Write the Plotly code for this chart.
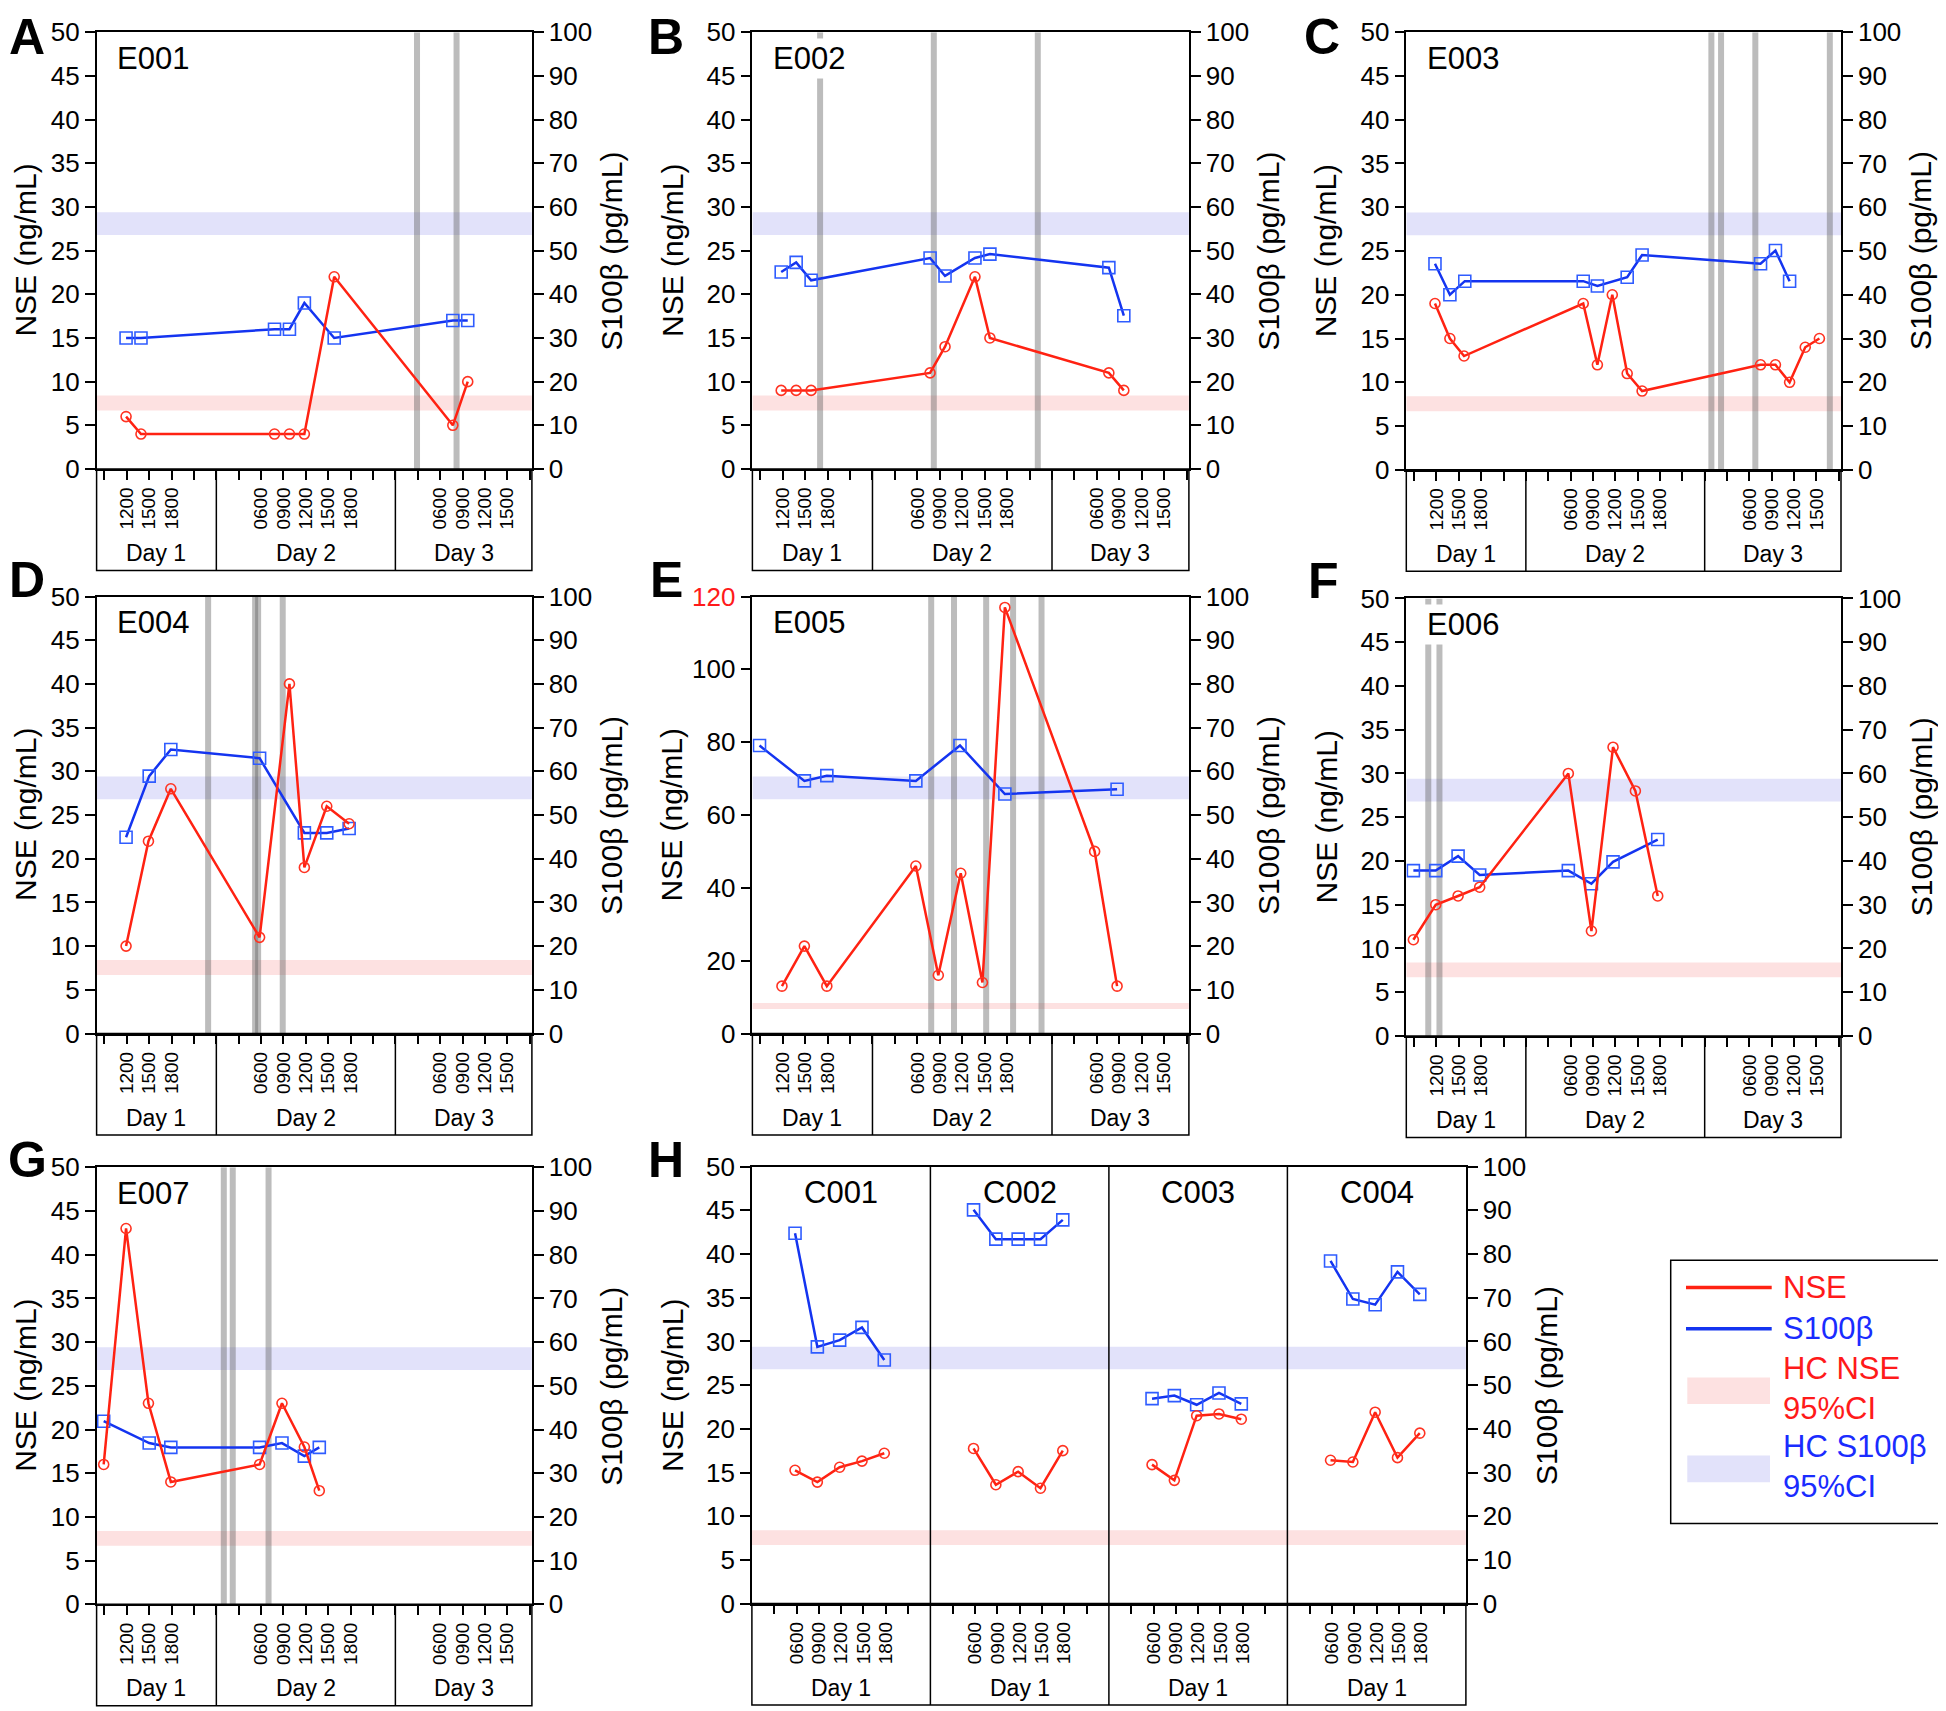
import plotly.graph_objects as go

# page size; the html body keeps an 8 px margin, so the figure is made smaller
# and every pixel position below is given in page pixels and shifted by OFF
PAGE_W, PAGE_H = 1946, 1711
OFF = 8
W, H = PAGE_W - OFF, PAGE_H - OFF
FONT = "Liberation Sans"

# ---- data: times are hours counted from 00:00 of Day 1 ----
E001_time = [11.9, 13.9, 31.8, 33.8, 35.8, 39.8, 55.7, 57.7]
E001_nse = [6, 4, 4, 4, 4, 22, 5, 10]
E001_s100 = [30, 30, 32, 32, 38, 30, 34, 34]
E001_bars = [50.9, 56.2]

E002_time = [11.8, 13.8, 15.8, 31.7, 33.7, 37.7, 39.7, 55.6, 57.6]
E002_nse = [9, 9, 9, 11, 14, 22, 15, 11, 9]
E002_s100 = [45.1, 47.3, 43.2, 48.3, 44.2, 48.3, 49.2, 46.1, 35.1]
E002_bars = [17.0, 32.2, 46.1]

E003_nse_time = [11.8, 13.8, 15.7, 31.7, 33.6, 35.6, 37.6, 39.6, 55.5, 57.5, 59.4, 61.5, 63.4]
E003_nse = [19, 15, 13, 19, 12, 20, 11, 9, 12, 12, 10, 14, 15]
E003_s100_time = [11.8, 13.8, 15.8, 31.7, 33.6, 37.6, 39.6, 55.5, 57.5, 59.4]
E003_s100 = [47.1, 40.0, 43.1, 43.1, 42.0, 44.0, 49.1, 47.1, 50.1, 43.1]
E003_bars = [48.9, 50.2, 54.8, 64.8]

E004_nse_time = [11.9, 14.9, 17.9, 29.8, 33.8, 35.8, 38.8, 41.8]
E004_nse = [10, 22, 28, 11, 40, 19, 26, 24]
E004_s100_time = [11.9, 15.0, 17.9, 29.8, 35.8, 38.8, 41.8]
E004_s100 = [44.9, 58.9, 65.0, 63.0, 45.9, 45.9, 46.9]
E004_bars = [22.9, 29.2, 29.6, 32.9]

E005_nse_time = [11.9, 14.9, 17.9, 29.8, 32.8, 35.8, 38.7, 41.7, 53.7, 56.7]
E005_nse = [13, 24, 13, 46, 16, 44, 14, 117, 50, 13]
E005_s100_time = [8.9, 14.9, 17.9, 29.8, 35.7, 41.7, 56.7]
E005_s100 = [65.9, 57.8, 59.0, 57.8, 65.9, 54.8, 55.9]
E005_bars = [31.85, 34.9, 39.2, 42.8, 46.6]

E006_nse_time = [8.9, 11.9, 14.9, 17.8, 29.7, 32.8, 35.7, 38.7, 41.7]
E006_nse = [11, 15, 16, 17, 30, 12, 33, 28, 16]
E006_s100_time = [8.9, 11.9, 14.9, 17.8, 29.7, 32.8, 35.7, 41.7]
E006_s100 = [37.8, 37.8, 41.1, 36.8, 37.8, 34.8, 39.8, 44.9]
E006_bars = [10.9, 12.4]

E007_nse_time = [8.9, 11.9, 14.9, 17.9, 29.8, 32.8, 35.8, 37.8]
E007_nse = [16, 43, 23, 14, 16, 23, 18, 13]
E007_s100_time = [8.9, 15.0, 17.9, 29.8, 32.8, 35.8, 37.8]
E007_s100 = [41.9, 36.9, 35.9, 35.9, 36.9, 33.9, 35.9]
E007_bars = [25.0, 26.2, 31.0]

# controls, one day each (hour of day)
ctrl_names = ["C001", "C002", "C003", "C004"]
ctrl_time = [5.8, 8.8, 11.8, 14.8, 17.8]
ctrl_nse = [
    [15.25, 13.9, 15.6, 16.3, 17.2],
    [17.75, 13.6, 15.1, 13.2, 17.5],
    [15.9, 14.1, 21.5, 21.7, 21.1],
    [16.4, 16.2, 21.9, 16.7, 19.5],
]
ctrl_s100 = [
    [84.75, 58.75, 60.3, 63.2, 55.75],
    [90.1, 83.4, 83.4, 83.4, 87.8],
    [46.9, 47.6, 45.5, 48.2, 45.7],
    [78.4, 69.7, 68.4, 75.9, 70.75],
]

# healthy-control 95% CI bands
NSE_CI = [6.7, 8.4]      # ng/mL
S100_CI = [53.6, 58.8]   # pg/mL

# x axis ticks (patients: 3 days, controls: 1 day each)
X_RANGE = [7.95, 66.3]
X_TICKS = list(range(9, 67, 3))
X_LABELED = [12, 15, 18, 30, 33, 36, 39, 42, 54, 57, 60, 63]
DAY_EDGES = [24, 48]
DAY_NAMES = ["Day 1", "Day 2", "Day 3"]
H_RANGE = [0, 96]
H_TICKS = [h + 24 * k for k in range(4) for h in range(3, 22, 3)]
H_LABELED = [6, 9, 12, 15, 18]

RED = "#ff2212"
RED_M = "#ff3322"
BLUE = "#1434f0"
BLUE_M = "#2f5cff"
PINK = "#fde1e1"
LAV = "#e2e2fa"
GRAY = "rgba(95,95,95,0.42)"
LEG_RED = "#ff1a1a"
LEG_BLUE = "#1a2cff"

# panel boxes in page pixels: left, right, top, bottom (of the plotting area)
# lpos: panel letter centre; None for y means "pinned to the top edge"
panels = [
    dict(letter="A", name="E001", box=(96.6, 531.9, 32.2, 469.0), lpos=(27, None),
         tn=E001_time, nse=E001_nse, ts=E001_time, s100=E001_s100, bars=E001_bars),
    dict(letter="B", name="E002", box=(752.4, 1188.9, 32.2, 469.0), lpos=(665.5, None),
         tn=E002_time, nse=E002_nse, ts=E002_time, s100=E002_s100, bars=E002_bars),
    dict(letter="C", name="E003", box=(1406.3, 1841.0, 32.2, 469.8), lpos=(1321.5, None),
         tn=E003_nse_time, nse=E003_nse, ts=E003_s100_time, s100=E003_s100, bars=E003_bars),
    dict(letter="D", name="E004", box=(96.6, 531.9, 596.5, 1033.5), lpos=(27, 580),
         tn=E004_nse_time, nse=E004_nse, ts=E004_s100_time, s100=E004_s100, bars=E004_bars),
    dict(letter="E", name="E005", box=(752.4, 1188.9, 596.5, 1033.5), lpos=(666, 580),
         tn=E005_nse_time, nse=E005_nse, ts=E005_s100_time, s100=E005_s100, bars=E005_bars,
         nse_max=120),
    dict(letter="F", name="E006", box=(1406.3, 1841.0, 598.4, 1036.0), lpos=(1323, 581),
         tn=E006_nse_time, nse=E006_nse, ts=E006_s100_time, s100=E006_s100, bars=E006_bars),
    dict(letter="G", name="E007", box=(96.6, 531.9, 1167.3, 1604.3), lpos=(27, 1160),
         tn=E007_nse_time, nse=E007_nse, ts=E007_s100_time, s100=E007_s100, bars=E007_bars),
    dict(letter="H", name=None, box=(751.9, 1465.9, 1166.6, 1603.6), lpos=(666, 1160)),
]

BOX_PX = 101.5  # height of the "Day" box under each x axis


def px(x):
    return (x - OFF) / W


def py(y):
    return 1 - (y - OFF) / H


def aid(letter, n):
    return letter if n == 1 else f"{letter}{n}"


fig = go.Figure()
layout = dict(width=W, height=H, margin=dict(l=0, r=0, t=0, b=0), template="none",
              paper_bgcolor="white", plot_bgcolor="rgba(0,0,0,0)", showlegend=False,
              font=dict(family=FONT, color="black"))
shapes = []
annots = []

axis_common = dict(showline=True, linecolor="black", linewidth=1.5, ticks="outside",
                   tickwidth=1.5, tickcolor="black", showgrid=False, zeroline=False,
                   automargin=False, fixedrange=True)

for i, p in enumerate(panels):
    n = i + 1
    xid = aid("x", n)
    ym, yo = 2 * i + 1, 2 * i + 2
    ymid, yoid = aid("y", ym), aid("y", yo)
    x0, x1, yt, yb = p["box"]
    ctrl = p["name"] is None
    hpx = yb - yt
    boxf = BOX_PX / hpx

    if ctrl:
        xr = H_RANGE
        tv = H_TICKS
        tt = [f"{h % 24:02d}00" if h % 24 in H_LABELED else "" for h in H_TICKS]
    else:
        xr = X_RANGE
        tv = X_TICKS
        tt = [f"{h % 24:02d}00" if h in X_LABELED else "" for h in X_TICKS]

    layout[aid("xaxis", n)] = dict(axis_common, domain=[px(x0), px(x1)], range=xr, anchor=ymid,
                                   tickvals=tv, ticktext=tt, tickangle=-90, ticklen=9,
                                   mirror=True, tickfont=dict(size=19))
    layout[aid("yaxis", ym)] = dict(axis_common, domain=[py(yb), py(yt)], range=[0, 100],
                                    dtick=10, side="right", anchor=xid, ticklen=10,
                                    tickfont=dict(size=26))
    nse_max = p.get("nse_max", 50)
    if nse_max == 120:
        nv = list(range(0, 121, 20))
        nt = [str(v) for v in nv[:-1]] + [f'<span style="color:{LEG_RED}">120</span>']
        yextra = dict(tickvals=nv, ticktext=nt)
    else:
        yextra = dict(dtick=5)
    layout[aid("yaxis", yo)] = dict(axis_common, range=[0, nse_max], side="left", anchor=xid,
                                    overlaying=ymid, ticklen=10, tickfont=dict(size=26), **yextra)

    # CI bands and gray event bars
    shapes.append(dict(type="rect", xref=xid, yref=yoid, x0=xr[0], x1=xr[1], y0=NSE_CI[0],
                       y1=NSE_CI[1], fillcolor=PINK, line_width=0, layer="below"))
    shapes.append(dict(type="rect", xref=xid, yref=ymid, x0=xr[0], x1=xr[1], y0=S100_CI[0],
                       y1=S100_CI[1], fillcolor=LAV, line_width=0, layer="below"))
    for b in p.get("bars", []):
        shapes.append(dict(type="line", xref=xid, yref=ymid, x0=b, x1=b, y0=0, y1=100,
                           line=dict(color=GRAY, width=6), layer="below"))

    # box with day compartments below the axis
    shapes.append(dict(type="rect", xref=f"{xid} domain", yref=f"{ymid} domain", x0=0, x1=1,
                       y0=-boxf, y1=0, line=dict(color="black", width=1.5), layer="above"))
    edges = [24, 48, 72] if ctrl else DAY_EDGES
    for d in edges:
        shapes.append(dict(type="line", xref=xid, yref=f"{ymid} domain", x0=d, x1=d,
                           y0=-boxf, y1=1 if ctrl else 0,
                           line=dict(color="black", width=1.5), layer="above"))
    day_y = -(84 / hpx)
    lab_y = 1 - 26 / hpx
    if ctrl:
        for k in range(4):
            annots.append(dict(text="Day 1", xref=xid, yref=f"{ymid} domain", x=12 + 24 * k,
                               y=day_y, xanchor="center", yanchor="middle", showarrow=False,
                               font=dict(size=23)))
            annots.append(dict(text=ctrl_names[k], xref=xid, yref=f"{ymid} domain",
                               x=12 + 24 * k, y=lab_y, xanchor="center", yanchor="middle",
                               showarrow=False, font=dict(size=31)))
    else:
        bounds = [xr[0]] + DAY_EDGES + [xr[1]]
        for k, dn in enumerate(DAY_NAMES):
            annots.append(dict(text=dn, xref=xid, yref=f"{ymid} domain",
                               x=(bounds[k] + bounds[k + 1]) / 2, y=day_y, xanchor="center",
                               yanchor="middle", showarrow=False, font=dict(size=23)))
        annots.append(dict(text=p["name"], xref=f"{xid} domain", yref=f"{ymid} domain",
                           x=17.5 / (x1 - x0), y=lab_y, xanchor="left", yanchor="middle",
                           showarrow=False, bgcolor="white", borderpad=2, font=dict(size=31)))

    # axis titles and panel letter (left titles kept inside the page)
    ymidpx = (yt + yb) / 2
    annots.append(dict(text="NSE (ng/mL)", xref="paper", yref="paper", x=px(max(x0 - 80, 26)),
                       y=py(ymidpx), xanchor="center", yanchor="middle", textangle=-90,
                       showarrow=False, font=dict(size=30)))
    annots.append(dict(text="S100β (pg/mL)", xref="paper", yref="paper", x=px(x1 + 80),
                       y=py(ymidpx), xanchor="center", yanchor="middle", textangle=-90,
                       showarrow=False, font=dict(size=30)))
    lx, ly = p["lpos"]
    if ly is None:
        letter_pos = dict(y=1, yanchor="top", borderpad=0)
    else:
        letter_pos = dict(y=py(ly), yanchor="middle")
    annots.append(dict(text=f"<b>{p['letter']}</b>", xref="paper", yref="paper",
                       x=px(lx), xanchor="center", showarrow=False, font=dict(size=50),
                       **letter_pos))

    # traces: S100β on the main (right) axis, NSE on the overlay (left) axis, drawn on top
    if ctrl:
        series = [([t + 24 * k for t in ctrl_time], ctrl_s100[k], ctrl_nse[k]) for k in range(4)]
        series = [(tx, s, tx, nse) for tx, s, nse in series]
    else:
        series = [(p["ts"], p["s100"], p["tn"], p["nse"])]
    for ts, s100, tn, nse in series:
        fig.add_trace(go.Scatter(x=ts, y=s100, xaxis=xid, yaxis=ymid,
                                 mode="lines+markers", line=dict(color=BLUE, width=2.5),
                                 marker=dict(symbol="square-open", size=12, color=BLUE_M,
                                             line=dict(width=1.6))))
        fig.add_trace(go.Scatter(x=tn, y=nse, xaxis=xid, yaxis=yoid,
                                 mode="lines+markers", line=dict(color=RED, width=2.5),
                                 marker=dict(symbol="circle-open", size=10, color=RED_M,
                                             line=dict(width=1.6))))

# legend drawn by hand
shapes.append(dict(type="rect", xref="paper", yref="paper", x0=px(1670.7), x1=px(1943.3),
                   y0=py(1523.5), y1=py(1260.2), line=dict(color="black", width=1.5),
                   fillcolor="white", layer="above"))
shapes.append(dict(type="line", xref="paper", yref="paper", x0=px(1686), x1=px(1771.7),
                   y0=py(1287.5), y1=py(1287.5), line=dict(color=RED, width=3.5), layer="above"))
shapes.append(dict(type="line", xref="paper", yref="paper", x0=px(1686), x1=px(1771.7),
                   y0=py(1328.7), y1=py(1328.7), line=dict(color=BLUE, width=3.5), layer="above"))
shapes.append(dict(type="rect", xref="paper", yref="paper", x0=px(1687.3), x1=px(1770),
                   y0=py(1404), y1=py(1377.5), fillcolor=PINK, line_width=0, layer="above"))
shapes.append(dict(type="rect", xref="paper", yref="paper", x0=px(1687.3), x1=px(1770),
                   y0=py(1482.3), y1=py(1455.4), fillcolor=LAV, line_width=0, layer="above"))
legend_items = [("NSE", 1287.5, LEG_RED), ("S100β", 1328.7, LEG_BLUE),
                ("HC NSE<br>95%CI", 1388.2, LEG_RED), ("HC S100β<br>95%CI", 1466.5, LEG_BLUE)]
for txt, yy, col in legend_items:
    annots.append(dict(text=txt, xref="paper", yref="paper", x=px(1781), y=py(yy),
                       xanchor="left", yanchor="middle", align="left", showarrow=False,
                       font=dict(size=31, color=col)))

layout["shapes"] = shapes
layout["annotations"] = annots
fig.update_layout(**layout)

fig.write_html("out.html")
